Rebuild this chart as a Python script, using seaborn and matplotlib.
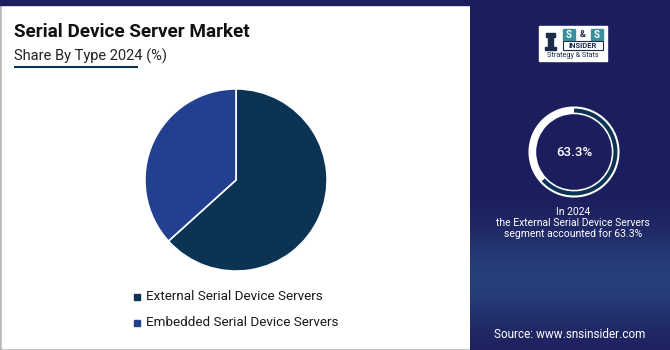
import numpy as np
import matplotlib
matplotlib.use("Agg")
import matplotlib.pyplot as plt
from matplotlib.patches import Rectangle
import seaborn as sns

# ---- data ----
segments = ["External Serial Device Servers", "Embedded Serial Device Servers"]
shares = [63.3, 36.7]
highlight_share = 63.3
highlight_year = "2024"
highlight_segment = "External Serial Device Servers"

title = "Serial Device Server Market"
subtitle = "Share By Type 2024 (%)"
source = "Source: www.snsinsider.com"

# ---- style ----
sns.set_theme(style="white")
plt.rcParams["font.family"] = ["Roboto", "DejaVu Sans"]

colors = ["#0b3354", "#233f8f"]
navy = "#1c1d5c"

W, H = 670, 350
fig = plt.figure(figsize=(W / 100, H / 100), dpi=100)


def fx(x):
    return x / W


def fy(y):
    return 1 - y / H


# background canvas in pixel coordinates
bg = fig.add_axes([0, 0, 1, 1])
bg.axis("off")

# left white panel with thin grey frame
bg.add_patch(Rectangle((0, 0), 470, H, color="#b8b8bc", zorder=0))
bg.add_patch(Rectangle((1.5, 0), 468, H - 2.5, color="white", zorder=1))
# top navy band
bg.add_patch(Rectangle((0, 0), W, 5, color=navy, zorder=2))

# right navy panel with soft vertical gradient
grad_y = np.linspace(0, 1, 200)
band = np.exp(-((grad_y - 0.80) / 0.14) ** 2)
top_c = np.array(matplotlib.colors.to_rgb(navy))
mid_c = np.array(matplotlib.colors.to_rgb("#27407a"))
img = top_c[None, :] * (1 - band[:, None]) + mid_c[None, :] * band[:, None]
img = np.repeat(img[:, None, :], 2, axis=1)
bg.imshow(img, extent=(470, W, H, 0), aspect="auto", zorder=2, interpolation="bilinear")
bg.set_xlim(0, W)
bg.set_ylim(H, 0)

# title block
bg.text(14, 32, title, fontsize=13.6, fontweight="bold", color="#111111",
        va="center", ha="left", zorder=3)
bg.text(14, 56, subtitle, fontsize=10.5, color="#222222",
        va="center", ha="left", zorder=3)
bg.plot([14, 138], [67, 67], color="#0b3354", lw=1.5, zorder=3, solid_capstyle="butt")

# main pie
R = 92
pie_ax = fig.add_axes([fx(236 - R), fy(180 + R), fx(2 * R), 2 * R / H])
pie_ax.pie(shares, colors=colors, startangle=90, counterclock=False,
           wedgeprops=dict(edgecolor="white", linewidth=1.2))
pie_ax.set_xlim(-1.01, 1.01)
pie_ax.set_ylim(-1.01, 1.01)
pie_ax.set_aspect("equal")

# legend
for i, (lab, c) in enumerate(zip(segments, colors)):
    y = 297 + i * 26
    bg.add_patch(Rectangle((134, y - 3), 6, 6, color=c, zorder=3))
    bg.text(146, y, lab, fontsize=9.7, color="#1a1a1a", va="center", ha="left", zorder=3)

# logo
bg.add_patch(Rectangle((539, 26), 68, 35, color="white", zorder=3))
bg.add_patch(Rectangle((563, 29), 12, 11, color="#3b8f9a", zorder=4))
bg.add_patch(Rectangle((591, 29), 12, 11, color="#3b8f9a", zorder=4))
bg.text(569, 34.5, "S", fontsize=7, color="white", fontweight="bold", ha="center", va="center", zorder=5)
bg.text(583, 34.5, "&", fontsize=6.5, color="#1c2b4a", fontweight="bold", ha="center", va="center", zorder=5)
bg.text(597, 34.5, "S", fontsize=7, color="white", fontweight="bold", ha="center", va="center", zorder=5)
bg.add_patch(Rectangle((563, 41), 40, 9, facecolor="white", edgecolor="#1c2b4a", lw=0.8, zorder=4))
bg.text(583, 45.5, "INSIDER", fontsize=5.5, color="#1c2b4a", fontweight="bold",
        ha="center", va="center", zorder=5)
bg.text(573, 55.5, "Strategy & Stats", fontsize=5.2, color="#1c2b4a",
        ha="center", va="center", zorder=5)
# small chess-piece style mark
bg.add_patch(Rectangle((546, 33), 9, 4, color="#1c2b4a", zorder=4))
bg.add_patch(Rectangle((548, 37), 5, 10, color="#1c2b4a", zorder=4))
bg.add_patch(Rectangle((545, 47), 11, 3, color="#1c2b4a", zorder=4))

# ring showing the highlighted share
r = 46
ring_ax = fig.add_axes([fx(574 - r), fy(152 + r), fx(2 * r), 2 * r / H])
ring_ax.pie([1], colors=["white"], radius=1.0, startangle=90,
            wedgeprops=dict(width=0.17, edgecolor="none"))
ring_ax.pie([highlight_share, 100 - highlight_share], colors=["#0b3354", (0, 0, 0, 0)],
            radius=0.955, startangle=90, counterclock=False,
            wedgeprops=dict(width=0.09, edgecolor="none"))
ring_ax.set_xlim(-1.01, 1.01)
ring_ax.set_ylim(-1.01, 1.01)
ring_ax.set_aspect("equal")
ring_ax.text(0, 0, f"{highlight_share}%", fontsize=9.5, fontweight="medium",
             color="white", ha="center", va="center")

# ring caption
bg.text(573, 212, f"In {highlight_year}", fontsize=7.5, color="white", ha="center", va="center", zorder=3)
bg.text(573, 223, f"the {highlight_segment}", fontsize=7.5, color="white", ha="center", va="center", zorder=3)
bg.text(573, 234, f"segment accounted for {highlight_share}%", fontsize=7.5, color="white",
        ha="center", va="center", zorder=3)

bg.text(570, 334, source, fontsize=8.5, color="white", ha="center", va="center", zorder=3)

fig.savefig("out.png", dpi=100)
